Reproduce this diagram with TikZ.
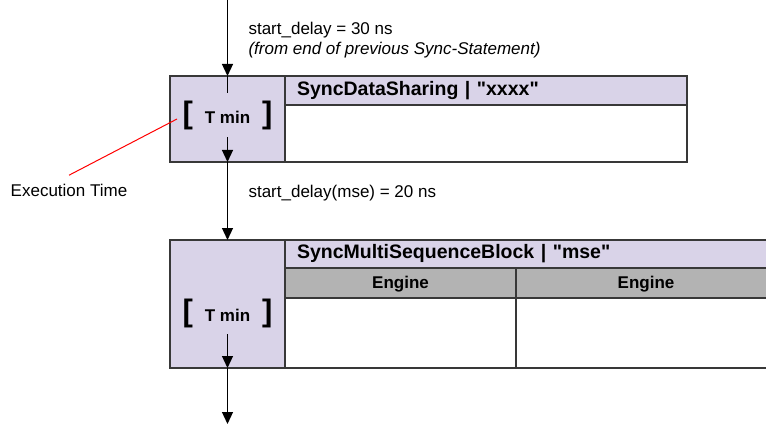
\documentclass[tikz,border=0pt]{standalone}
\usepackage{fontspec}
\setmainfont{Liberation Sans}
\usetikzlibrary{positioning, arrows.meta}

\definecolor{syncpurple}{RGB}{217,211,232}
\definecolor{enginegray}{RGB}{179,179,179}
\definecolor{framegray}{RGB}{56,56,56}

\tikzset{
  tcell/.style={draw=framegray, line width=1.6pt, fill=syncpurple, minimum width=115pt, inner sep=0pt, outer sep=0pt, anchor=north west},
  hdr/.style={draw=framegray, line width=1.6pt, fill=syncpurple, anchor=north west, inner xsep=12pt, inner ysep=0pt, outer sep=0pt, align=left, font=\fontsize{19.5}{22}\selectfont\bfseries},
  engine/.style={draw=framegray, line width=1.4pt, fill=enginegray, anchor=north west, inner sep=0pt, outer sep=0pt, text height=12pt, text depth=1pt, font=\fontsize{17}{18}\selectfont\bfseries},
  body/.style={draw=framegray, line width=1.4pt, fill=white, anchor=north west, inner sep=0pt, outer sep=0pt},
  tmin/.style={inner sep=0pt, minimum height=44pt, font=\fontsize{17}{18}\selectfont\bfseries},
  flow/.style={-{Triangle[width=11pt,length=12pt]}, line width=1.2pt},
  note/.style={anchor=west, align=left, font=\fontsize{17}{20}\selectfont},
}

\newcommand{\bracketed}[1]{{\fontsize{31}{31}\selectfont[}\hspace{12pt}#1\hspace{12pt}{\fontsize{31}{31}\selectfont]}}

\begin{document}
\begin{tikzpicture}[x=1pt, y=-1pt]
    \useasboundingbox (0,0) rectangle (766,425);
    \clip (0,0) rectangle (766,425);

    % First sync statement
    \node[tcell, minimum height=86pt] (tbox1) at (170,76) {};
    \node[hdr, minimum height=29pt, text width=378pt] (hdr1) at (tbox1.north east) {SyncDataSharing | \textquotedbl xxxx\textquotedbl};
    \node[body, minimum width=402pt, minimum height=57pt] (body1) at (hdr1.south west) {};
    \node[tmin] (tmin1) at (227.5,115) {\bracketed{T min}};

    % Second sync statement
    \node[tcell, minimum height=128pt] (tbox2) at (170,240) {};
    \node[hdr, minimum height=28pt, text width=467pt] (hdr2) at (tbox2.north east) {SyncMultiSequenceBlock | \textquotedbl mse\textquotedbl};
    \node[engine, minimum width=231pt, minimum height=30pt] (eng1) at (hdr2.south west) {Engine};
    \node[engine, minimum width=260pt, minimum height=30pt] (eng2) at (eng1.north east) {Engine};
    \node[body, minimum width=231pt, minimum height=70pt] (lane1) at (eng1.south west) {};
    \node[body, minimum width=260pt, minimum height=70pt] (lane2) at (eng2.south west) {};
    \node[tmin, minimum height=42pt] (tmin2) at (227.5,313) {\bracketed{T min}};

    % Flow arrows
    \coordinate (entry) at (227.5,0);
    \coordinate (exit) at (227.5,424);
    \draw[flow] (entry) -- (tbox1.north);
    \draw[line width=1.2pt] (tbox1.north) -- (tmin1.north);
    \draw[flow] (tmin1.south) -- (tbox1.south);
    \draw[flow] (tbox1.south) -- (tbox2.north);
    \draw[flow] (tmin2.south) -- (tbox2.south);
    \draw[flow] (tbox2.south) -- (exit);

    % Delays
    \node[note] (delay1) at (245,40) {start\_delay = 30 ns\\\textit{(from end of previous Sync-Statement)}};
    \node[note] (delay2) at (245,193) {start\_delay(mse) = 20 ns};

    % Execution time pointer
    \node[font=\fontsize{17}{20}\selectfont] (exec) at (69,190) {Execution Time};
    \coordinate (pin) at (177,119);
    \draw[red, line width=1pt] ([yshift=5pt]exec.north) -- (pin);
\end{tikzpicture}
\end{document}
